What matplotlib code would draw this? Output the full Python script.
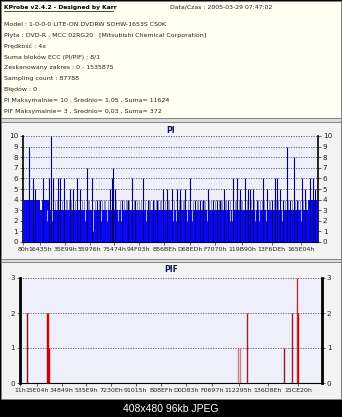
import matplotlib
matplotlib.use('Agg')
import matplotlib.pyplot as plt
from matplotlib.patches import Rectangle

W, H = 342, 417

# ---- header text ----
head_title = 'KProbe v2.4.2 - Designed by Karr'
head_date = 'Data/Czas : 2005-03-29 07:47:02'
head_lines = ['Model : 1-0-0-0 LITE-ON DVDRW SOHW-1653S CS0K',
              'Płyta : DVD-R , MCC 02RG20   [Mitsubishi Chemical Corporation]',
              'Prędkość : 4x',
              'Suma bloków ECC (PI/PIF) : 8/1',
              'Zeskanowany zakres : 0 - 1535875',
              'Sampling count : 87788',
              'Błędów : 0',
              'PI Maksymalnie= 10 , Średnio= 1,05 , Suma= 11624',
              'PIF Maksymalnie= 3 , Średnio= 0,03 , Suma= 372']

# ---- PI chart (positions in LBA) ----
pi_ticks = ['80h', '16435h', '35E99h', '55976h', '75474h', '94F03h',
            'B56BEh', 'D68EDh', 'F7070h', '119B90h', '13F6DEh', '165E04h']
pi_fill_edges = [128, 90000, 100000, 142000, 1500000, 1553000]
pi_fill_levels = [4, 3, 4, 3, 4]
pi_spike_x = [31600, 52700, 63000, 105000, 137000, 147000, 158000, 184000,
              195000, 216000, 247000, 263000, 284000, 300000, 337000, 363000,
              390000, 405000, 458000, 469000, 474000, 484000, 521000, 553000,
              574000, 590000, 632000, 658000, 684000, 706000, 737000, 758000,
              784000, 811000, 827000, 853000, 879000, 906000, 932000, 948000,
              974000, 1000000, 1021000, 1037000, 1058000, 1079000, 1106000,
              1127000, 1143000, 1169000, 1185000, 1195000, 1211000, 1232000,
              1264000, 1285000, 1311000, 1327000, 1337000, 1353000, 1369000,
              1390000, 1406000, 1427000, 1443000, 1469000, 1485000, 1511000,
              1527000, 1537000]
pi_spike_y = [9, 6, 5, 6, 6, 10, 6, 6,
              6, 6, 5, 5, 6, 5, 7, 6,
              4, 4, 5, 6, 7, 5, 4, 4,
              6, 4, 6, 4, 4, 4, 5, 5,
              5, 5, 5, 5, 6, 4, 4, 4,
              5, 4, 4, 4, 5, 4, 6,
              6, 5, 6, 5, 5, 5, 4,
              6, 5, 4, 6, 6, 5, 4,
              9, 4, 8, 4, 6, 5, 6,
              6, 5]
pi_four_x = [20000, 40000, 75000, 110000, 170000, 205000, 225000, 240000,
             255000, 275000, 310000, 350000, 380000, 400000, 430000, 450000,
             490000, 540000, 560000, 600000, 610000, 620000, 640000, 670000,
             690000, 700000, 720000, 745000, 770000, 795000, 820000, 840000,
             870000, 895000, 915000, 940000, 960000, 990000, 1010000, 1030000,
             1050000, 1070000, 1090000, 1115000, 1135000, 1155000, 1180000,
             1200000, 1250000, 1270000, 1295000, 1320000, 1345000, 1380000,
             1415000, 1450000, 1475000,
             178000, 232000, 322000, 342000, 415000, 425000, 510000, 530000,
             548000, 582000, 666000, 712000, 728000, 765000, 834000, 846000,
             922000, 954000, 980000, 1044000, 1064000, 1122000, 1150000,
             1217000, 1238000, 1258000, 1302000, 1333000, 1396000, 1434000,
             1458000, 1492000]
pi_dip_x = [126000, 153000, 326000, 369000, 411000, 442000, 500000, 516000,
            650000, 790000, 805000, 863000, 890000, 969000, 1090000, 1100000,
            1221000, 1243000, 1280000, 1365000, 1465000]
pi_dip_y = [2, 2, 2, 1, 2, 2, 2, 2,
            2, 2, 2, 2, 2, 2, 2, 2,
            2, 2, 2, 2, 2]

# ---- PIF chart ----
pif_ticks = ['11h', '15E04h', '34849h', '535E9h', '7230Eh', '91015h',
             'B08EFh', 'D0D83h', 'F0697h', '112295h', '136D8Eh', '15CE20h']
pif_x = [36000, 141000, 143000, 145000, 147000, 1120000, 1130000, 1166000,
         1356000, 1397000, 1423000, 1427000]
pif_y = [2, 2, 2, 1, 1, 1, 1, 2, 1, 2, 3, 2]
pif_col = ['#8a1010', '#c00000', '#e00000', '#e00000', '#c00000', '#d08080',
           '#d08080', '#a02020', '#902020', '#902020', '#c03030', '#e00000']

bg_plot = '#efeffc'
grid_c = '#555555'


def fbox(x0, y0, x1, y1):
    return [x0 / W, 1 - y1 / H, (x1 - x0) / W, (y1 - y0) / H]


fig = plt.figure(figsize=(W / 100, H / 100), dpi=100, facecolor='black')

# panels
for (x0, y0, x1, y1, fc) in [(1, 1, 341, 118, '#fffff2'),
                             (1, 118, 341, 122, '#dcdcdc'),
                             (1, 122, 341, 259, '#f3f3f3'),
                             (1, 259, 341, 262, '#dcdcdc'),
                             (1, 262, 341, 399, '#f3f3f3')]:
    b = fbox(x0, y0, x1, y1)
    fig.patches.append(Rectangle((b[0], b[1]), b[2], b[3], transform=fig.transFigure,
                                 facecolor=fc, edgecolor='#808080', lw=0.6, zorder=-5))

# header
fig.text(4 / W, 1 - 7 / H, head_title, fontsize=4.3, fontweight='bold',
         va='center', ha='left', color='black')
fig.add_artist(plt.Line2D([4 / W, 113 / W], [1 - 10.5 / H, 1 - 10.5 / H], color='black', lw=0.5))
fig.text(170 / W, 1 - 7 / H, head_date, fontsize=4.4, va='center', ha='left', color='#222222')
for i, s in enumerate(head_lines):
    fig.text(4 / W, 1 - (25 + i * 10.7) / H, s, fontsize=4.5, va='center', ha='left',
             color='#222222')


def style(ax, ymax, ticks, xmax, spine_w):
    ax.set_facecolor(bg_plot)
    ax.set_xlim(int(ticks[0][:-1], 16), xmax)
    ax.set_ylim(0, ymax)
    ax.set_yticks(range(ymax + 1))
    for yv in range(1, ymax + 1):
        ax.axhline(yv, color=grid_c, lw=0.6, ls=(0, (1.5, 1.5)), zorder=1)
    ax.set_xticks([int(t[:-1], 16) for t in ticks])
    ax.set_xticklabels(ticks)
    ax.tick_params(axis='x', labelsize=4.5, length=2, width=0.5, pad=1.5, colors='#222222')
    ax.tick_params(axis='y', labelsize=5.2, length=2, width=0.5, pad=1.5,
                   right=True, labelright=True, colors='#222222')
    ax.spines['top'].set_visible(False)
    ax.spines['bottom'].set_linewidth(0.8)
    ax.spines['left'].set_linewidth(spine_w)
    ax.spines['right'].set_linewidth(spine_w)


# PI
ax1 = fig.add_axes(fbox(23, 136, 318, 242))
style(ax1, 10, pi_ticks, 1553000, 1.2)
ax1.vlines(pi_four_x, 0, 4, color='#7a7ac8', lw=0.6, zorder=2)
ax1.stairs(pi_fill_levels, pi_fill_edges, fill=True, color='#0808f4', zorder=3)
ax1.vlines(pi_spike_x, 0, pi_spike_y, color='#000080', lw=0.8, zorder=4)
ax1.vlines(pi_dip_x, pi_dip_y, 3, color='#c8c8f0', lw=0.6, zorder=5)
ax1.set_title('PI', fontsize=5.5, fontweight='bold', color='#101060', pad=2.5)

# PIF
ax2 = fig.add_axes(fbox(20, 278, 322, 383))
style(ax2, 3, pif_ticks, 1552000, 2.0)
ax2.vlines(pif_x, 0, pif_y, colors=pif_col, lw=1.0, zorder=4)
ax2.set_title('PIF', fontsize=5.5, fontweight='bold', color='#101060', pad=4)

fig.text(0.5, 1 - 409 / H, '408x480 96kb JPEG', fontsize=7.5, color='white',
         ha='center', va='center', family='Liberation Sans')

fig.savefig('out.png', dpi=100, facecolor='black')
